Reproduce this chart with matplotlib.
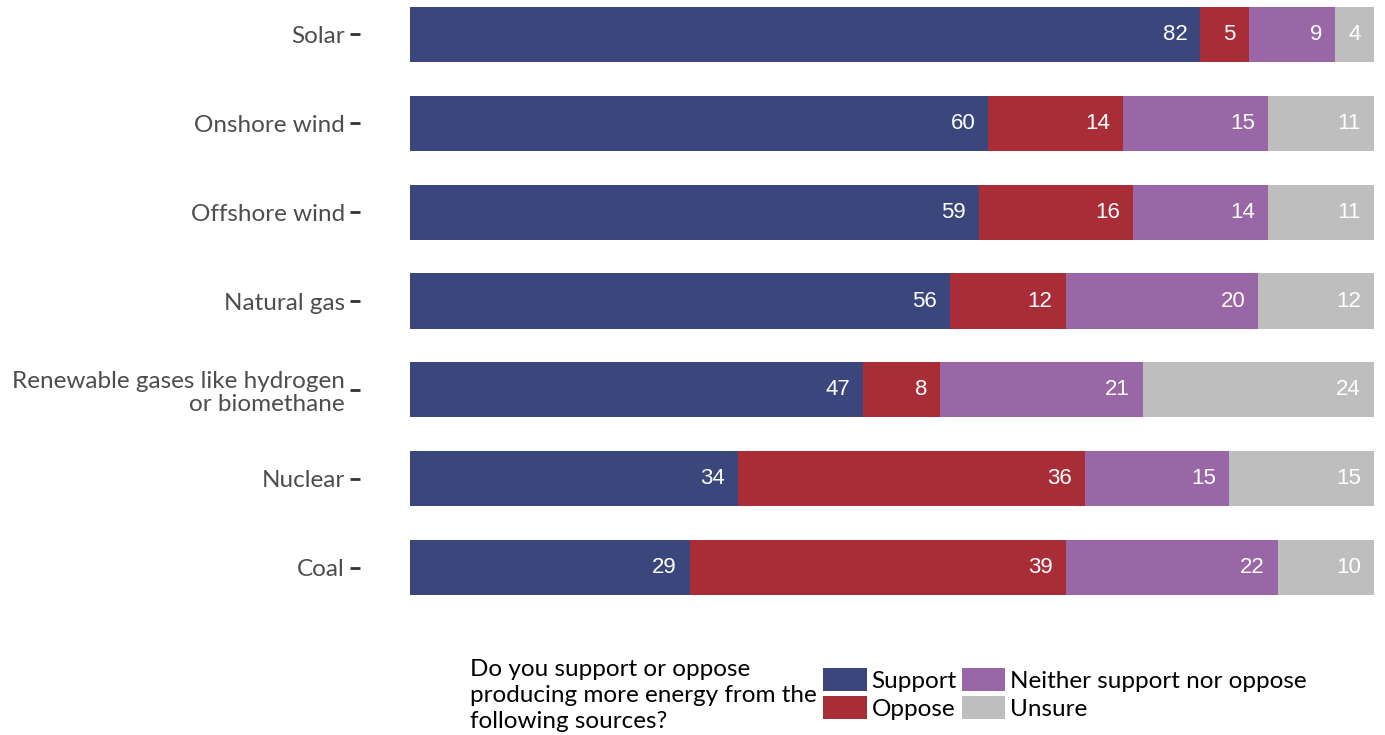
import numpy as np
import matplotlib
matplotlib.use("Agg")
import matplotlib.pyplot as plt
from matplotlib.patches import Patch

# Dados
fontes = ["Solar", "Onshore wind", "Offshore wind", "Natural gas",
          "Renewable gases like hydrogen\nor biomethane", "Nuclear", "Coal"]
support = [82, 60, 59, 56, 47, 34, 29]
oppose = [5, 14, 16, 12, 8, 36, 39]
neither = [9, 15, 14, 20, 21, 15, 22]
unsure = [4, 11, 11, 12, 24, 15, 10]

respostas = ["Support", "Oppose", "Neither support nor oppose", "Unsure"]
cores = ["#3B467D", "#A82D37", "#9966A6", "#BEBEBE"]

W, H = 1385, 735
fig = plt.figure(figsize=(W / 100, H / 100), dpi=100)
ax = fig.add_axes([360 / W, 115 / H, (W - 360) / W, 620 / H])

y = np.arange(len(fontes))
esquerda = np.zeros(len(fontes))
for serie, cor in zip([support, oppose, neither, unsure], cores):
    serie = np.array(serie, dtype=float)
    ax.barh(y, serie, left=esquerda, height=0.62, color=cor, linewidth=0)
    for yi, fim, val in zip(y, esquerda + serie, serie):
        ax.annotate(f"{val:.0f}", (fim, yi), xytext=(-9.5, 0), textcoords="offset points",
                    ha="right", va="center", color="white", fontsize=16,
                    family="Liberation Sans")
    esquerda += serie

# Eixos
ax.set_xlim(-50 / 9.64, (W - 410) / 9.64)
ax.set_ylim(6 + (620 - 567.5) / 89, -34.5 / 89)
ax.set_yticks(y)
ax.set_yticklabels(fontes, fontsize=17.5, color="#4D4D4D", family="Lato",
                   linespacing=1.1)
ax.tick_params(axis="y", length=7, width=2, color="#333333", pad=4)
ax.set_xticks([])
for s in ax.spines.values():
    s.set_visible(False)

# Legenda
fig.text(470 / W, 1 - 659 / H,
         "Do you support or oppose\nproducing more energy from the\nfollowing sources?",
         ha="left", va="top", fontsize=17.5, family="Lato",
         color="black", linespacing=1.28)
handles = [Patch(facecolor=c, edgecolor="none") for c in cores]
fig.legend(handles, respostas, loc="upper left", bbox_to_anchor=(823 / W, 1 - 668 / H),
           ncol=2, frameon=False, prop={"family": "Lato", "size": 17.5},
           handlelength=1.8, handleheight=1.1, handletextpad=0.2,
           columnspacing=0.2, labelspacing=0.15, borderpad=0, borderaxespad=0)

fig.savefig("out.png", dpi=100)
